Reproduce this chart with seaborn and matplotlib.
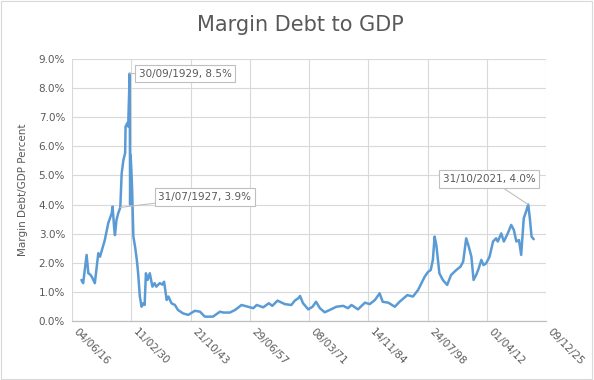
import numpy as np
import pandas as pd
import matplotlib
matplotlib.use("Agg")
import matplotlib.pyplot as plt
import matplotlib.dates as mdates
from matplotlib.ticker import FuncFormatter, MultipleLocator
import seaborn as sns

# decimal years and margin debt / GDP (%)
years = [1918.6, 1919.0, 1919.8, 1920.2, 1920.6, 1921.0, 1921.7, 1922.5, 1922.9,
         1924.0, 1924.8, 1925.6, 1925.8, 1926.2, 1926.35, 1926.7, 1927.1, 1927.58,
         1927.9, 1928.3, 1928.7, 1928.8, 1929.2, 1929.4, 1929.75, 1929.85, 1929.95,
         1930.1, 1930.3, 1930.6, 1931.0, 1931.4, 1931.7, 1932.1, 1932.5, 1932.9,
         1933.2, 1933.5, 1933.9, 1934.4, 1935.0, 1935.5, 1935.9, 1936.7, 1937.3,
         1937.7, 1938.3, 1938.7, 1939.4, 1940.2, 1940.9, 1942.1, 1943.3, 1944.8,
         1946.0, 1947.1, 1949.0, 1950.6, 1951.4, 1952.9, 1954.1, 1955.6, 1957.1,
         1958.3, 1959.1, 1960.6, 1961.9, 1962.7, 1963.9, 1965.6, 1967.1, 1967.9,
         1968.7, 1969.1, 1969.8, 1971.0, 1972.0, 1972.8, 1973.7, 1974.8, 1976.0,
         1977.5, 1979.1, 1980.2, 1981.0, 1982.5, 1984.1, 1985.2, 1986.4, 1987.5,
         1988.2, 1989.5, 1991.0, 1992.1, 1993.9, 1995.2, 1996.4, 1997.9, 1998.7,
         1999.3, 1999.8, 2000.2, 2000.6, 2000.9, 2001.3, 2002.1, 2003.1, 2004.0,
         2005.2, 2006.2, 2006.8, 2007.5, 2008.1, 2008.7, 2009.2, 2009.8, 2010.4,
         2011.0, 2011.5, 2012.1, 2012.9, 2013.7, 2014.4, 2014.8, 2015.6, 2016.2,
         2017.1, 2017.9, 2018.5, 2019.1, 2019.7, 2020.2, 2020.8, 2021.2, 2021.83,
         2022.2, 2022.6, 2023.1]
values = [1.41, 1.30, 2.27, 1.64, 1.60, 1.52, 1.30, 2.33, 2.21,
          2.78, 3.36, 3.70, 3.93, 3.13, 2.95, 3.47, 3.70, 3.90,
          5.07, 5.53, 5.77, 6.68, 6.80, 6.68, 8.50, 4.00, 5.70,
          5.30, 4.60, 2.90, 2.55, 2.10, 1.64, 0.84, 0.49, 0.61,
          0.55, 1.64, 1.41, 1.64, 1.18, 1.30, 1.18, 1.30, 1.25,
          1.35, 0.72, 0.84, 0.61, 0.55, 0.38, 0.26, 0.21, 0.35,
          0.32, 0.15, 0.15, 0.32, 0.29, 0.29, 0.38, 0.55, 0.49,
          0.44, 0.55, 0.47, 0.61, 0.52, 0.70, 0.58, 0.55, 0.70,
          0.78, 0.86, 0.61, 0.40, 0.49, 0.66, 0.44, 0.30, 0.38,
          0.49, 0.52, 0.44, 0.55, 0.40, 0.63, 0.58, 0.72, 0.95,
          0.66, 0.63, 0.49, 0.66, 0.89, 0.84, 1.07, 1.52, 1.69,
          1.75, 2.10, 2.90, 2.61, 2.21, 1.64, 1.41, 1.24, 1.58,
          1.75, 1.87, 2.04, 2.84, 2.55, 2.21, 1.41, 1.58, 1.81,
          2.10, 1.92, 1.98, 2.21, 2.73, 2.84, 2.73, 3.01, 2.73,
          3.01, 3.30, 3.13, 2.73, 2.78, 2.27, 3.53, 3.70, 4.00,
          3.53, 2.90, 2.81]

tick_start = "1916-06-04"
tick_step_days = 5000
n_ticks = 9
y_ticks = [0, 1, 2, 3, 4, 5, 6, 7, 8, 9]

annot_dates = ["1929-09-30", "1927-07-31", "2021-10-31"]
annot_values = [8.5, 3.9, 4.0]
annot_labels = ["30/09/1929, 8.5%", "31/07/1927, 3.9%", "31/10/2021, 4.0%"]


def to_date(y):
    yr = int(np.floor(y))
    return pd.Timestamp(year=yr, month=1, day=1) + pd.Timedelta(days=(y - yr) * 365.25)


df = pd.DataFrame({"date": [to_date(y) for y in years], "pct": values})

sns.set_theme(style="white")
plt.rcParams["font.family"] = ["DejaVu Sans"]

fig = plt.figure(figsize=(5.94, 3.80), dpi=100)
ax = fig.add_axes([72 / 594, 1 - 321 / 380, (546 - 72) / 594, (321 - 59) / 380])

sns.lineplot(data=df, x="date", y="pct", ax=ax, color="#5B9BD5", linewidth=1.8)

grey = "#595959"
start = pd.Timestamp(tick_start)
ticks = [start + pd.Timedelta(days=tick_step_days * i) for i in range(n_ticks)]
ax.set_xlim(ticks[0], ticks[-1])
ax.set_xticks(ticks)
ax.set_xticklabels([t.strftime("%d/%m/%y") for t in ticks], rotation=-45,
                   ha="left", va="top", fontsize=7.5, color=grey)
ax.set_ylim(0, 9)
ax.set_yticks(y_ticks)
ax.yaxis.set_major_formatter(FuncFormatter(lambda v, p: f"{v:.1f}%"))
ax.tick_params(axis="y", labelsize=7.5, labelcolor=grey, length=0, pad=5)
ax.tick_params(axis="x", length=0, pad=4)

ax.grid(True, color="#d9d9d9", linewidth=0.8)
for s in ["top", "right", "left"]:
    ax.spines[s].set_visible(False)
ax.spines["bottom"].set_color("#bfbfbf")
ax.spines["bottom"].set_linewidth(0.9)

ax.set_xlabel("")
ax.set_ylabel("Margin Debt/GDP Percent", fontsize=7.5, color=grey, labelpad=8)

fig.text(0.505, 1 - 25 / 380, "Margin Debt to GDP", ha="center", va="center",
         fontsize=15, color=grey)

offsets = [(40, 0), (61, 7.5), (-28, 18.5)]
for d, v, lab, off in zip(annot_dates, annot_values, annot_labels, offsets):
    ax.annotate(lab, xy=(pd.Timestamp(d), v), xytext=off, textcoords="offset points",
                ha="center", va="center", fontsize=7.5, color=grey,
                bbox=dict(boxstyle="square,pad=0.35", fc="white", ec="#bfbfbf", lw=0.8),
                arrowprops=dict(arrowstyle="-", color="#bfbfbf", lw=0.8,
                                shrinkA=0, shrinkB=0))

fig.patches.append(plt.Rectangle((0.002, 0.003), 0.995, 0.994, transform=fig.transFigure,
                                 fill=False, ec="#d9d9d9", lw=0.8))

fig.savefig("out.png", dpi=100)
